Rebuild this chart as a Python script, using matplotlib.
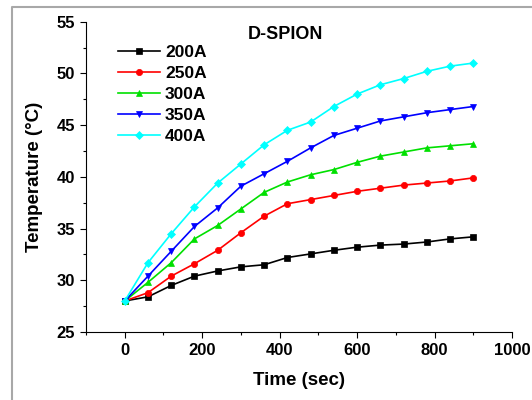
import numpy as np
import matplotlib.pyplot as plt
from matplotlib.lines import Line2D
from matplotlib.ticker import MultipleLocator

plt.rcParams['font.family'] = ['Liberation Sans', 'DejaVu Sans']
plt.rcParams['font.weight'] = 'bold'

# time (sec) and temperature (C)
time = [0, 60, 120, 180, 240, 300, 360, 420, 480, 540, 600, 660, 720, 780, 840, 900]
t200 = [28.0, 28.4, 29.5, 30.4, 30.9, 31.3, 31.5, 32.2, 32.55, 32.9, 33.2, 33.4, 33.5, 33.7, 34.0, 34.2]
t250 = [28.0, 28.8, 30.4, 31.6, 32.9, 34.6, 36.2, 37.4, 37.8, 38.2, 38.6, 38.9, 39.2, 39.4, 39.6, 39.9]
t300 = [28.0, 29.8, 31.7, 34.0, 35.3, 36.9, 38.5, 39.5, 40.2, 40.7, 41.4, 42.0, 42.4, 42.8, 43.0, 43.2]
t350 = [28.0, 30.4, 32.8, 35.2, 37.0, 39.1, 40.3, 41.5, 42.8, 44.0, 44.7, 45.4, 45.8, 46.2, 46.5, 46.8]
t400 = [28.0, 31.7, 34.5, 37.1, 39.4, 41.25, 43.1, 44.5, 45.3, 46.8, 48.0, 48.9, 49.5, 50.2, 50.7, 51.0]

labels = ['200A', '250A', '300A', '350A', '400A']
colors = ['black', 'red', '#00e000', 'blue', 'cyan']
markers = ['s', 'o', '^', 'v', 'D']
series = [t200, t250, t300, t350, t400]

fig = plt.figure(figsize=(5.32, 4.0), dpi=100)
ax1 = fig.add_axes([0.1617, 0.17, 0.8007, 0.7758])

# grey frame round the figure (only top and left edges are visible)
fx, fy = 12/532, 1 - 7/400
fig.lines.append(Line2D([fx, fx, 1.0], [0.0, fy, fy], transform=fig.transFigure,
                        color='#a8a8a8', linewidth=1.5))

for i in range(5):
    ms = 4.5 if markers[i] != 'D' else 4.0
    ax1.plot(time, series[i], label=labels[i], color=colors[i], marker=markers[i],
             markersize=ms, linewidth=1.2, markeredgewidth=0.5)

ax1.set_xlim(-100, 1000)
ax1.set_ylim(25, 55)
ax1.xaxis.set_major_locator(MultipleLocator(200))
ax1.xaxis.set_minor_locator(MultipleLocator(100))
ax1.yaxis.set_major_locator(MultipleLocator(5))
ax1.yaxis.set_minor_locator(MultipleLocator(2.5))
ax1.spines['top'].set_visible(False)
ax1.spines['right'].set_visible(False)
ax1.tick_params(which='major', length=4, width=0.8, labelsize=12, pad=4)
ax1.tick_params(which='minor', length=2.5, width=0.8)

ax1.set_xlabel('Time (sec)', fontsize=13.5, fontweight='bold', labelpad=10)
ax1.set_ylabel('Temperature (°C)', fontsize=13.5, fontweight='bold', labelpad=10)
ax1.text(0.467, 0.96, 'D-SPION', transform=ax1.transAxes, ha='center', va='center',
         fontsize=13, fontweight='bold')

ax1.legend(loc='upper left', bbox_to_anchor=(32/426, 0.925), frameon=False, fontsize=12.5,
           handlelength=2.4, handletextpad=0.3, labelspacing=0.34, numpoints=1,
           borderaxespad=0, borderpad=0)

plt.savefig('out.png', dpi=100)
